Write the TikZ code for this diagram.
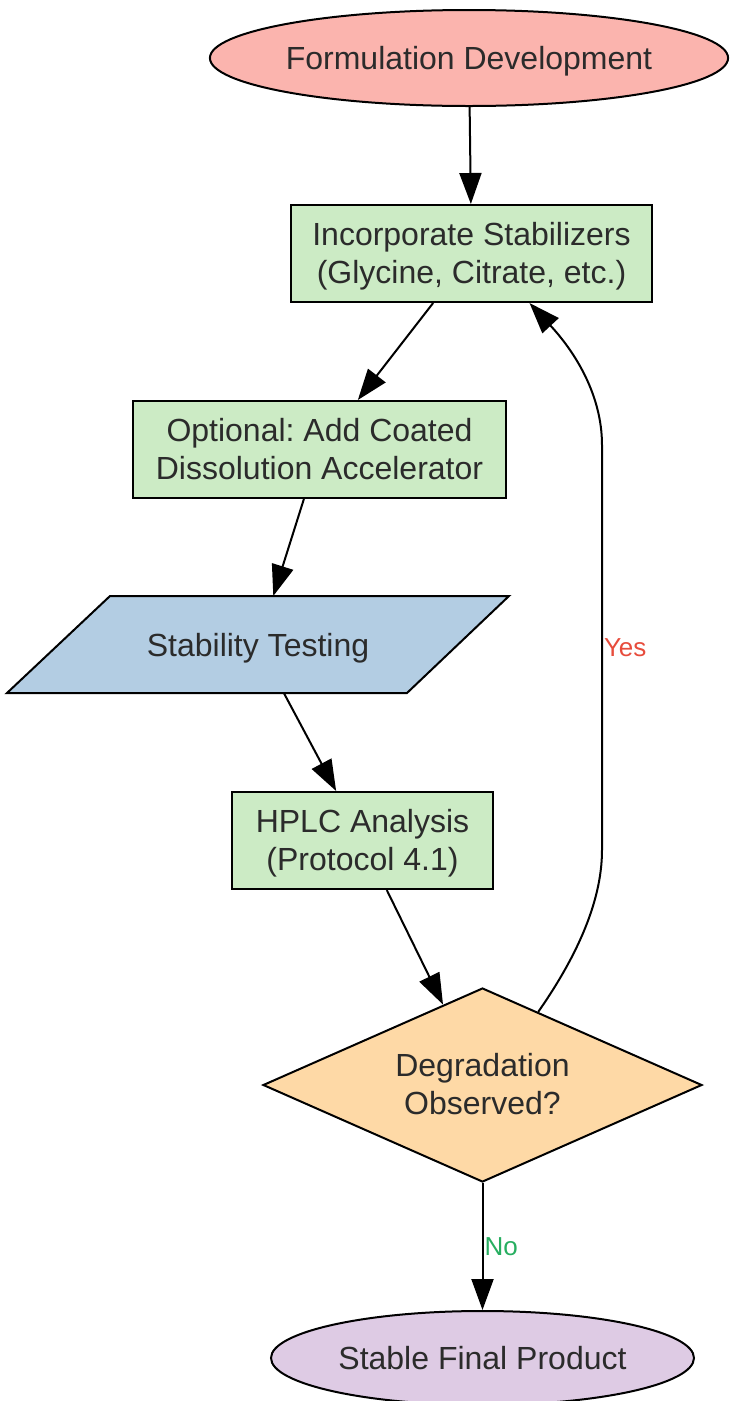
\documentclass[tikz,border=0pt]{standalone}
\usepackage{fontspec}
\setmainfont{Liberation Sans}
\usetikzlibrary{shapes.geometric,arrows.meta,calc}
\pgfdeclarelayer{bg}
\pgfsetlayers{bg,main}
\definecolor{txt}{HTML}{2B2B2B}
\definecolor{cred}{HTML}{FBB4AE}
\definecolor{cgreen}{HTML}{CCEBC5}
\definecolor{cblue}{HTML}{B3CDE3}
\definecolor{corange}{HTML}{FED9A6}
\definecolor{cpurple}{HTML}{DECBE4}
\definecolor{yescol}{HTML}{E74C3C}
\definecolor{nocol}{HTML}{27AE60}
\tikzset{
  base/.style={draw=black, line width=2pt, text=txt, align=center, inner sep=0pt,
    font=\fontsize{32}{38}\selectfont\frenchspacing},
  oneline/.style={text height=23pt, text depth=-3pt},
  twoline/.style={text height=59pt, text depth=-3pt},
  term/.style={base, oneline, ellipse, minimum height=96pt},
  procbox/.style={base, twoline, rectangle, minimum height=97pt},
  iobox/.style={base, oneline, draw=none, rectangle, minimum width=500pt, minimum height=95pt},
  decbox/.style={base, twoline, diamond, aspect=2.26, fill=corange, minimum width=439pt, minimum height=194pt},
  conn/.style={line width=2pt, draw=black, -{Triangle[length=31pt,width=22pt]}},
  lbl/.style={font=\fontsize{26}{30}\selectfont, inner sep=1pt, anchor=west}
}
\begin{document}
\begin{tikzpicture}[x=1pt,y=-1pt]
\useasboundingbox (0,0) rectangle (729,1401);
\node[term, fill=cred, minimum width=518pt] (start) at (469,58) {Formulation Development};
\node[procbox, fill=cgreen, minimum width=361pt] (stab) at (471.5,253.5) {Incorporate Stabilizers\\(Glycine, Citrate, etc.)};
\node[procbox, fill=cgreen, minimum width=373pt] (accel) at (319.5,449.5) {Optional: Add Coated\\Dissolution Accelerator};
\node[iobox] (test) at (258,644.5) {Stability Testing};
\begin{pgfonlayer}{bg}
\draw[line width=2pt, fill=cblue] (test.south west) -- ([xshift=-102pt]test.south east) -- (test.north east) -- ([xshift=103pt]test.north west) -- cycle;
\end{pgfonlayer}
\node[procbox, fill=cgreen, minimum width=261pt] (hplc) at (362.5,840.5) {HPLC Analysis\\(Protocol 4.1)};
\node[decbox] (deg) at (482.5,1085) {Degradation\\Observed?};
\node[term, fill=cpurple, minimum width=423pt, minimum height=94pt] (final) at (482.5,1358) {Stable Final Product};

\draw[conn] (start) -- (stab);
\draw[conn] (stab) -- (accel);
\draw[conn] (accel) -- (test);
\draw[conn] (test) -- (hplc);
\draw[conn] (hplc) -- (deg);
\draw[conn] (deg) -- node[lbl, text=nocol] {No} (final);
\draw[conn] ($(deg.north)!0.253!(deg.east)$) .. controls (573,962) and (602,905) .. (602,850)
  -- node[lbl, text=yescol] {Yes} (602,445)
  .. controls (602,395) and (575,352) .. ([xshift=58pt]stab.south);
\end{tikzpicture}
\end{document}
